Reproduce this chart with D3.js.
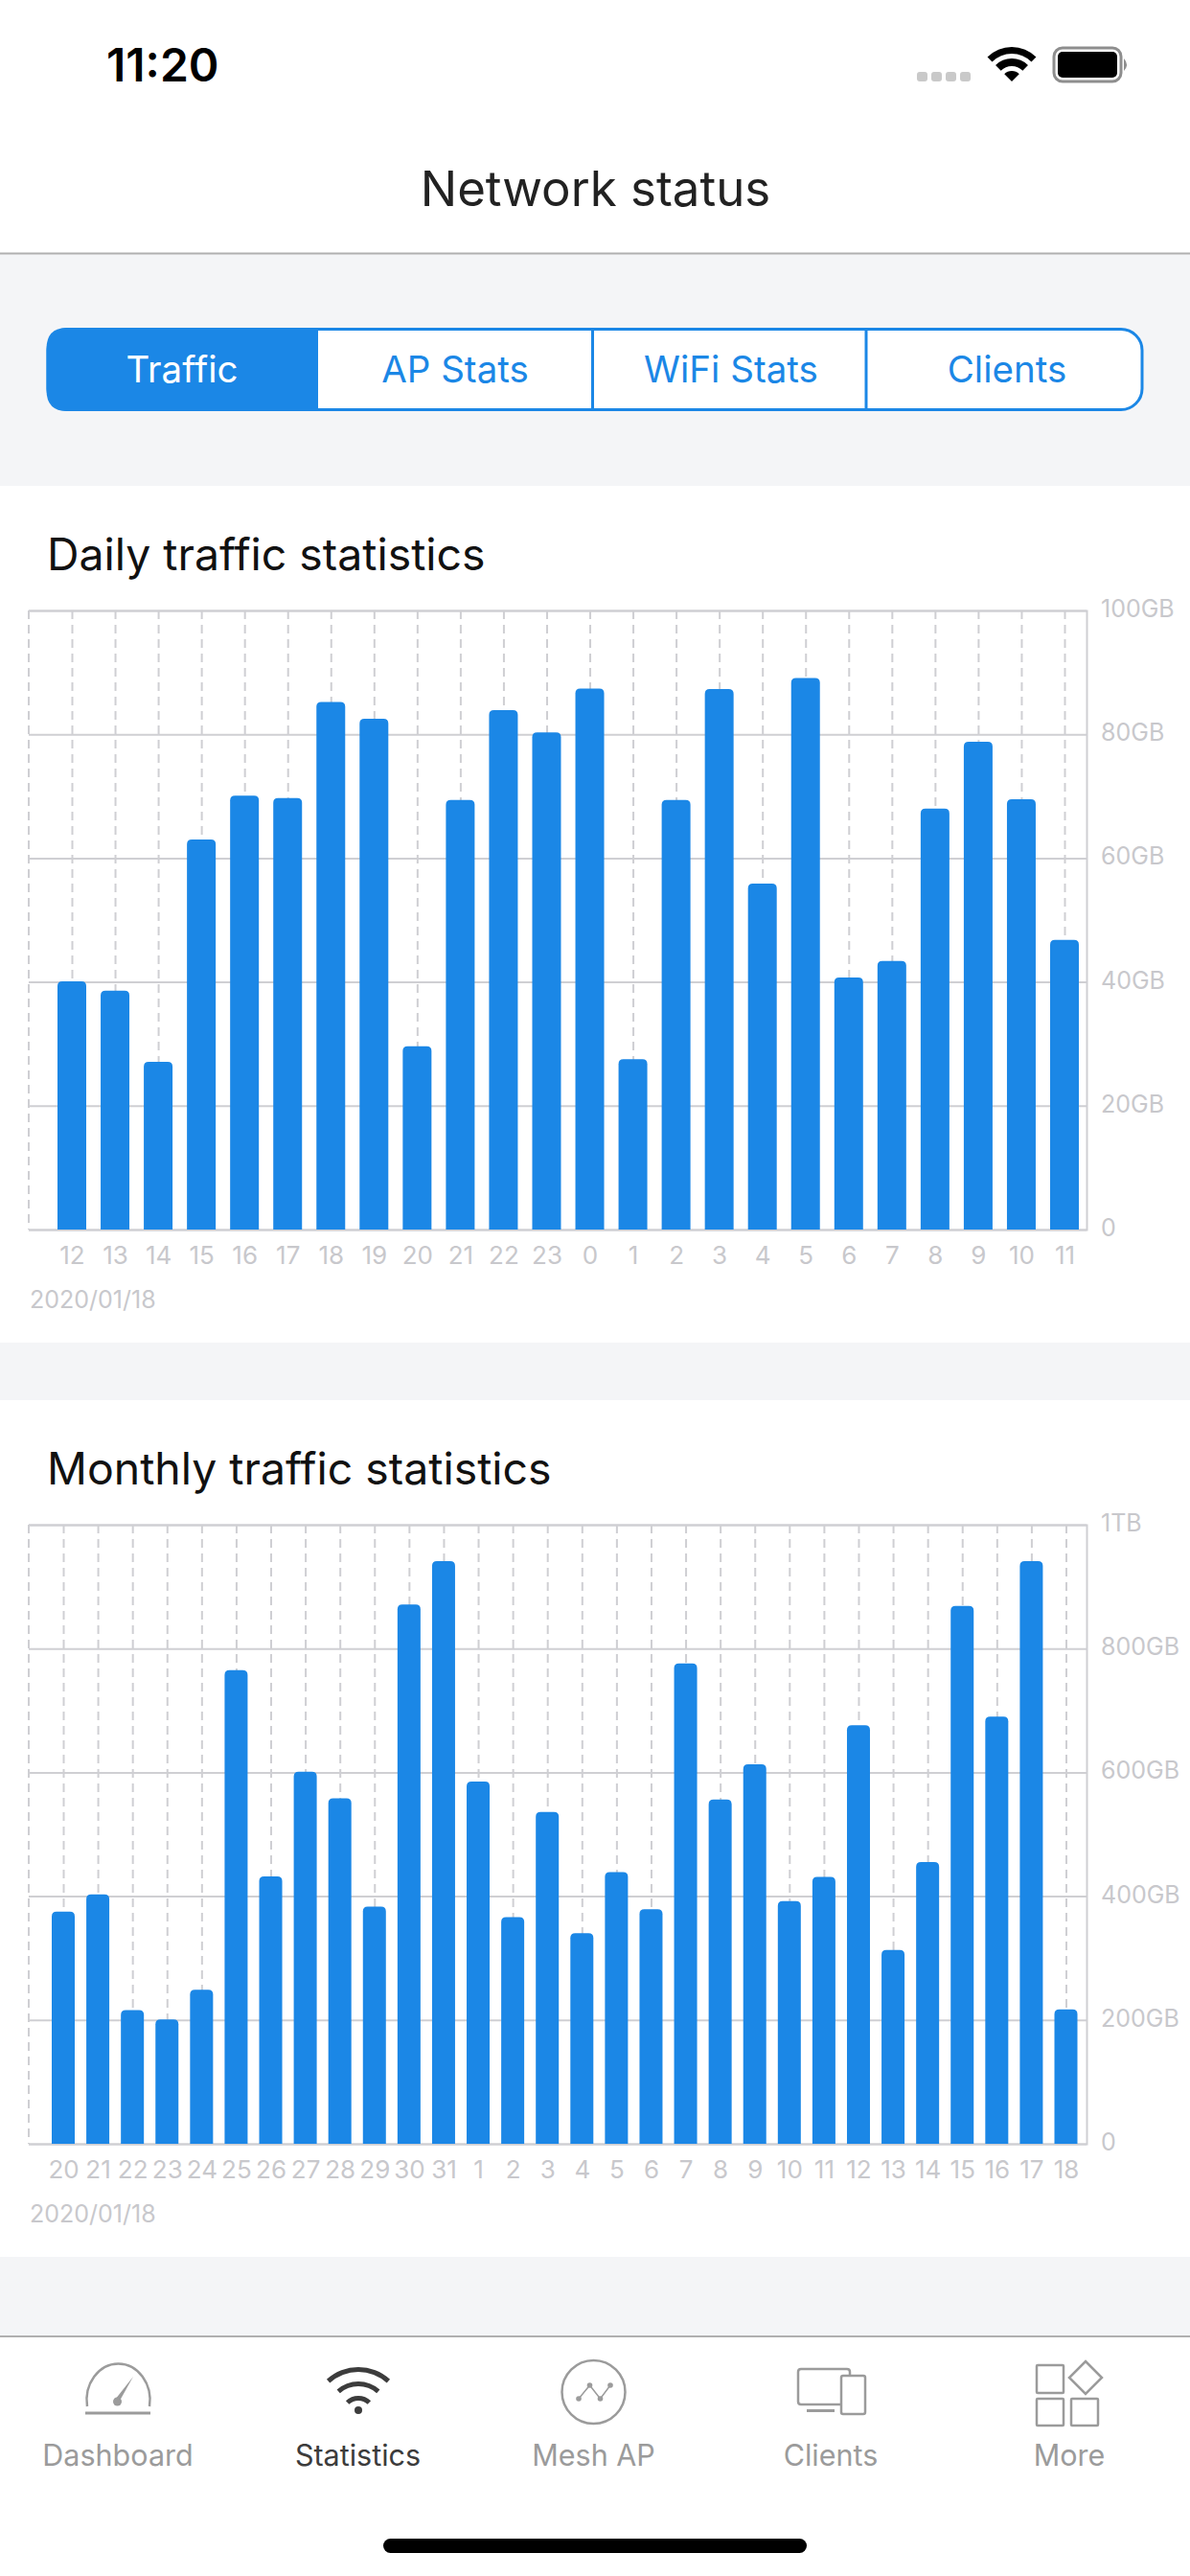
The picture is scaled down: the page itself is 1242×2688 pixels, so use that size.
<!DOCTYPE html>
<html>
<head>
<meta charset="utf-8">
<script src="https://cdnjs.cloudflare.com/ajax/libs/d3/7.8.5/d3.min.js"></script>
<style>
  html, body { margin: 0; padding: 0; background: #fff; }
  svg { display: block; }
  text { font-family: Inter, "Noto Sans", sans-serif; }
</style>
</head>
<body>
<div id="screen"></div>
<script>
// chart values
const hourLabels = ['12', '13', '14', '15', '16', '17', '18', '19', '20', '21', '22', '23',
  '0', '1', '2', '3', '4', '5', '6', '7', '8', '9', '10', '11'];
const dailyGB = [40.1, 38.6, 27.1, 63, 70.1, 69.7, 85.2, 82.5, 29.6, 69.4, 83.9, 80.3,
  87.4, 27.5, 69.4, 87.3, 55.9, 89.1, 40.7, 43.4, 68, 78.8, 69.5, 46.8];
const dailyTicks = [0, 20, 40, 60, 80, 100];
const dailyTickLabels = ['0', '20GB', '40GB', '60GB', '80GB', '100GB'];

const dayLabels = ['20', '21', '22', '23', '24', '25', '26', '27', '28', '29', '30', '31',
  '1', '2', '3', '4', '5', '6', '7', '8', '9', '10', '11', '12', '13', '14', '15', '16', '17', '18'];
const monthlyGB = [375, 403, 216, 201, 249, 765, 432, 601, 558, 383, 871, 941,
  585, 366, 536, 340, 439, 379, 776, 556, 613, 392, 431, 676, 313, 455, 869, 690, 941, 217];
const monthlyTicks = [0, 200, 400, 600, 800, 1000];
const monthlyTickLabels = ['0', '200GB', '400GB', '600GB', '800GB', '1TB'];

const segments = ['Traffic', 'AP Stats', 'WiFi Stats', 'Clients'];
const tabs = ['Dashboard', 'Statistics', 'Mesh AP', 'Clients', 'More'];

const BLUE = '#1b87e6';
const GRID = '#cfcfd3';
const MUTED = '#c8c8cc';
const TAB_GREY = '#9b9b9b';
const TAB_DARK = '#3c3c3c';
const PAGE_GREY = '#f4f5f7';

const svg = d3.select('#screen').append('svg')
  .attr('width', 1242)
  .attr('height', 2688)
  .attr('viewBox', '0 0 1242 2688');

svg.append('rect').attr('width', 1242).attr('height', 2688).attr('fill', '#fff');
svg.append('rect').attr('y', 265).attr('width', 1242).attr('height', 2173).attr('fill', PAGE_GREY);

const topRounded = (x, y, w, h, r) =>
  `M${x},${y + h}V${y + r}Q${x},${y} ${x + r},${y}H${x + w - r}Q${x + w},${y} ${x + w},${y + r}V${y + h}Z`;

const drawCard = ({ top, title, labels, values, ticks, tickLabels, domainMax, firstX, lastX, barWidth }) => {
  const left = 30;
  const right = 1134;
  const plotTop = top + 130;
  const plotBottom = top + 776;
  const card = svg.append('g');

  card.append('rect')
    .attr('y', top).attr('width', 1242).attr('height', 894)
    .attr('fill', '#fff');

  card.append('text')
    .attr('x', 49).attr('y', top + 88)
    .attr('font-size', 46.4).attr('fill', '#111')
    .text(title);

  const x = d3.scalePoint().domain(d3.range(labels.length)).range([firstX, lastX]);
  const y = d3.scaleLinear().domain([0, domainMax]).range([plotBottom, plotTop]);

  // dashed verticals, phase starts at the top of the plot
  const dashed = card.append('g')
    .attr('transform', `translate(0,${plotTop})`)
    .call(d3.axisTop(x).tickSize(-(plotBottom - plotTop)).tickFormat(''));
  dashed.select('.domain').remove();
  dashed.selectAll('line')
    .attr('stroke', GRID).attr('stroke-width', 2).attr('stroke-dasharray', '9 6');
  card.append('line')
    .attr('x1', left).attr('x2', left).attr('y1', plotTop).attr('y2', plotBottom)
    .attr('stroke', GRID).attr('stroke-width', 2).attr('stroke-dasharray', '9 6');

  const yAxis = card.append('g')
    .attr('transform', `translate(${right},0)`)
    .call(d3.axisRight(y)
      .tickValues(ticks)
      .tickSize(-(right - left))
      .tickPadding(15)
      .tickFormat((d, i) => tickLabels[i]));
  yAxis.select('.domain').attr('stroke', GRID).attr('stroke-width', 2);
  yAxis.selectAll('line').attr('stroke', GRID).attr('stroke-width', 2);
  yAxis.selectAll('text')
    .attr('font-family', 'Inter').attr('font-size', 25).attr('fill', MUTED)
    .attr('dy', '0.26em');

  card.append('g').selectAll('path')
    .data(values)
    .join('path')
    .attr('fill', BLUE)
    .attr('d', (d, i) => topRounded(x(i) - barWidth / 2, y(d), barWidth, y(0) - y(d), 5));

  const xAxis = card.append('g')
    .attr('transform', `translate(0,${plotBottom})`)
    .call(d3.axisBottom(x).tickSize(0).tickPadding(18).tickFormat(i => labels[i]));
  xAxis.select('.domain').remove();
  xAxis.selectAll('text')
    .attr('font-family', 'Inter').attr('font-size', 26).attr('fill', MUTED);

  card.append('text')
    .attr('x', 31).attr('y', plotBottom + 82)
    .attr('font-size', 25).attr('fill', MUTED)
    .text('2020/01/18');
};

drawCard({
  top: 507, title: 'Daily traffic statistics', labels: hourLabels, values: dailyGB,
  ticks: dailyTicks, tickLabels: dailyTickLabels, domainMax: 100,
  firstX: 75, lastX: 1111, barWidth: 30
});
drawCard({
  top: 1461, title: 'Monthly traffic statistics', labels: dayLabels, values: monthlyGB,
  ticks: monthlyTicks, tickLabels: monthlyTickLabels, domainMax: 1000,
  firstX: 66, lastX: 1112.5, barWidth: 24
});

// status bar
svg.append('text').attr('x', 111).attr('y', 85)
  .attr('font-size', 48).attr('font-weight', 600).attr('fill', '#000').text('11:20');
svg.append('g').selectAll('rect')
  .data(d3.range(4))
  .join('rect')
  .attr('x', i => 957 + i * 15).attr('y', 75)
  .attr('width', 11).attr('height', 10).attr('rx', 3)
  .attr('fill', '#c9c9c9');

const statusWifi = svg.append('g').attr('transform', 'translate(1056,85)');
[[0, 11], [16, 24], [29, 36]].forEach(([inner, outer]) => {
  statusWifi.append('path')
    .attr('fill', '#000')
    .attr('d', d3.arc()({
      innerRadius: inner, outerRadius: outer,
      startAngle: -Math.PI / 4, endAngle: Math.PI / 4
    }));
});

svg.append('rect').attr('x', 1100).attr('y', 50).attr('width', 70).attr('height', 35).attr('rx', 9)
  .attr('fill', '#fff').attr('stroke', '#8e8e8e').attr('stroke-width', 3);
svg.append('rect').attr('x', 1104).attr('y', 54).attr('width', 62).attr('height', 27).attr('rx', 5)
  .attr('fill', '#000');
svg.append('path').attr('d', 'M1173,61Q1179,67.5 1173,74Z').attr('fill', '#8e8e8e');

// nav title
svg.append('text').attr('x', 621.5).attr('y', 215).attr('text-anchor', 'middle')
  .attr('font-size', 51).attr('fill', '#222').text('Network status');
svg.append('line').attr('x1', 0).attr('x2', 1242).attr('y1', 264.5).attr('y2', 264.5)
  .attr('stroke', '#b0b0b0').attr('stroke-width', 2);

// segmented control
const segLeft = 50;
const segRight = 1192;
const segEdges = [segLeft, 332, 618.5, 904, segRight];
const segCenters = [190, 475, 763, 1051];
svg.append('rect').attr('x', segLeft).attr('y', 343.5)
  .attr('width', segRight - segLeft).attr('height', 84).attr('rx', 22)
  .attr('fill', '#fff').attr('stroke', BLUE).attr('stroke-width', 3);
svg.append('path')
  .attr('d', 'M332,342V429H70Q48.5,429 48.5,407V364Q48.5,342 70,342Z')
  .attr('fill', BLUE);
svg.append('g').selectAll('line')
  .data(segEdges.slice(2, 4))
  .join('line')
  .attr('x1', d => d).attr('x2', d => d).attr('y1', 343).attr('y2', 428)
  .attr('stroke', BLUE).attr('stroke-width', 3);
svg.append('g').selectAll('text')
  .data(segments)
  .join('text')
  .attr('x', (d, i) => segCenters[i]).attr('y', 399)
  .attr('text-anchor', 'middle').attr('font-size', 38.5)
  .attr('fill', (d, i) => (i === 0 ? '#fff' : BLUE))
  .text(d => d);

// tab bar
svg.append('rect').attr('y', 2438).attr('width', 1242).attr('height', 250).attr('fill', '#fff');
svg.append('line').attr('x1', 0).attr('x2', 1242).attr('y1', 2438).attr('y2', 2438)
  .attr('stroke', '#b0b0b0').attr('stroke-width', 2);
const tabCenters = [123, 373.5, 619.5, 867, 1116];
svg.append('g').selectAll('text')
  .data(tabs)
  .join('text')
  .attr('x', (d, i) => tabCenters[i]).attr('y', 2573)
  .attr('text-anchor', 'middle').attr('font-size', 30.5)
  .attr('fill', (d, i) => (i === 1 ? TAB_DARK : TAB_GREY))
  .text(d => d);

const icon = svg.append('g').attr('fill', 'none').attr('stroke', TAB_GREY).attr('stroke-width', 2.5);

// gauge
icon.append('path').attr('d', 'M91,2511A33,38 0 1 1 156,2511');
icon.append('path').attr('d', 'M89,2518H157').attr('stroke-width', 3);
icon.append('path').attr('d', 'M139,2480L125,2505L120,2504Z').attr('fill', TAB_GREY).attr('stroke', 'none');
icon.append('circle').attr('cx', 122.5).attr('cy', 2506).attr('r', 4.5).attr('fill', TAB_GREY).attr('stroke', 'none');

// statistics wifi
const tabWifi = svg.append('g').attr('transform', 'translate(374,2519)');
[[44, 49, 0.74], [29, 34, 0.72], [14, 19, 0.76]].forEach(([inner, outer, a]) => {
  tabWifi.append('path')
    .attr('fill', TAB_DARK)
    .attr('d', d3.arc()({ innerRadius: inner, outerRadius: outer, startAngle: -a, endAngle: a, cornerRadius: 2 }));
});
tabWifi.append('circle').attr('cy', -4).attr('r', 4).attr('fill', TAB_DARK);

// mesh
icon.append('circle').attr('cx', 619.5).attr('cy', 2496).attr('r', 33);
const meshPts = [[604, 2503], [615.5, 2489], [626.5, 2503], [637, 2489]];
icon.append('path').attr('d', d3.line()(meshPts)).attr('stroke-width', 1.5);
icon.append('g').selectAll('circle')
  .data(meshPts)
  .join('circle')
  .attr('cx', d => d[0]).attr('cy', d => d[1]).attr('r', 2.8)
  .attr('fill', TAB_GREY).attr('stroke', 'none');

// clients
icon.append('path').attr('d', 'M878,2509H836Q833,2509 833,2506V2475Q833,2472 836,2472H884Q887,2472 887,2475V2479');
icon.append('rect').attr('x', 878).attr('y', 2479).attr('width', 25).attr('height', 40).attr('rx', 2);
icon.append('path').attr('d', 'M842,2515.5H871').attr('stroke-width', 3);

// more
icon.append('rect').attr('x', 1082).attr('y', 2468).attr('width', 28).attr('height', 29).attr('rx', 1);
icon.append('path').attr('d', 'M1133,2464L1150,2481L1133,2498L1116,2481Z');
icon.append('rect').attr('x', 1082).attr('y', 2503).attr('width', 28).attr('height', 28).attr('rx', 1);
icon.append('rect').attr('x', 1118).attr('y', 2503).attr('width', 28).attr('height', 28).attr('rx', 1);

// home indicator
svg.append('rect').attr('x', 400).attr('y', 2649).attr('width', 442).attr('height', 15).attr('rx', 7.5).attr('fill', '#000');
</script>
</body>
</html>
